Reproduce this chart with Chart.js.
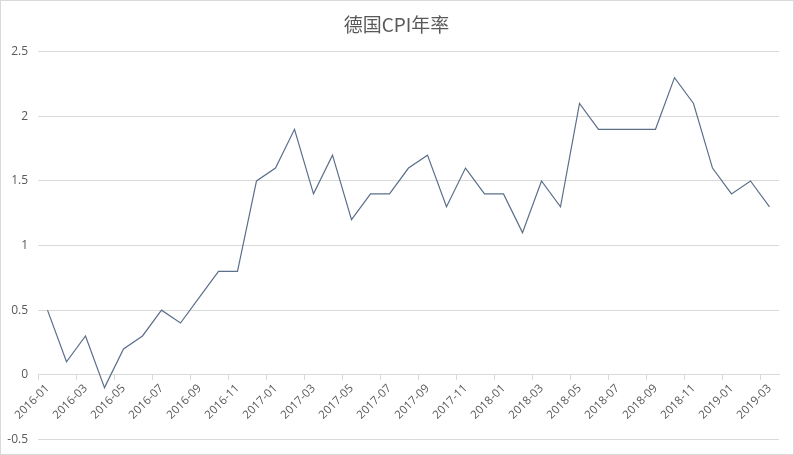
<!DOCTYPE html>
<html>
<head>
<meta charset="utf-8">
<script src="https://cdn.jsdelivr.net/npm/chart.js@4.4.0/dist/chart.umd.min.js"></script>
<style>
  html, body { margin: 0; padding: 0; background: #fff; }
  #wrap { width: 794px; height: 455px; box-sizing: border-box; border: 1px solid #d9d9d9; position: relative; }
</style>
</head>
<body>
<div id="wrap"><canvas id="cpi"></canvas></div>
<script>
// 月份
const months = [
  '2016-01', '2016-02', '2016-03', '2016-04', '2016-05', '2016-06', '2016-07', '2016-08', '2016-09', '2016-10', '2016-11', '2016-12',
  '2017-01', '2017-02', '2017-03', '2017-04', '2017-05', '2017-06', '2017-07', '2017-08', '2017-09', '2017-10', '2017-11', '2017-12',
  '2018-01', '2018-02', '2018-03', '2018-04', '2018-05', '2018-06', '2018-07', '2018-08', '2018-09', '2018-10', '2018-11', '2018-12',
  '2019-01', '2019-02', '2019-03'
];

// 德国CPI年率 (%)
const cpiRate = [
  0.5, 0.1, 0.3, -0.1, 0.2, 0.3, 0.5, 0.4, 0.6, 0.8, 0.8, 1.5,
  1.6, 1.9, 1.4, 1.7, 1.2, 1.4, 1.4, 1.6, 1.7, 1.3, 1.6, 1.4,
  1.4, 1.1, 1.5, 1.3, 2.1, 1.9, 1.9, 1.9, 1.9, 2.3, 2.1, 1.6,
  1.4, 1.5, 1.3
];

// y轴刻度
const yMin = -0.5;
const yMax = 2.5;
const yStep = 0.5;

const labelColor = '#595959';
const gridColor = '#d9d9d9';

new Chart(document.getElementById('cpi'), {
  type: 'line',
  data: {
    labels: months,
    datasets: [{
      label: '德国CPI年率',
      data: cpiRate,
      borderColor: '#5b6f8b',
      borderWidth: 1.2,
      pointRadius: 0,
      tension: 0,
      fill: false
    }]
  },
  options: {
    responsive: true,
    maintainAspectRatio: false,
    animation: false,
    layout: {
      padding: { top: 8, right: 1, bottom: 14.7, left: 0 }
    },
    plugins: {
      legend: { display: false },
      tooltip: { enabled: false },
      title: {
        display: true,
        text: '德国CPI年率',
        color: labelColor,
        font: { family: '"Noto Sans CJK SC", sans-serif', size: 19, weight: 'normal' },
        padding: { top: 4, bottom: 16 }
      }
    },
    scales: {
      x: {
        type: 'category',
        offset: true,
        position: { y: 0 },
        afterFit: function(scale) {
          scale.height = 0;
        },
        border: { display: true, color: gridColor },
        grid: {
          offset: true,
          drawOnChartArea: false,
          drawTicks: true,
          tickLength: 5,
          color: function(ctx) {
            return ctx.index % 2 === 0 ? gridColor : 'rgba(0,0,0,0)';
          }
        },
        ticks: {
          autoSkip: false,
          minRotation: 45,
          maxRotation: 45,
          padding: 2,
          color: labelColor,
          font: { family: '"Open Sans", sans-serif', size: 11.5 },
          callback: function(value, index) {
            return index % 2 === 0 ? this.getLabelForValue(value) : '';
          }
        }
      },
      y: {
        min: yMin,
        max: yMax,
        afterFit: function(scale) {
          scale.width = 37;
          scale.paddingBottom = 0;
        },
        border: { display: false },
        grid: {
          color: gridColor,
          drawTicks: false
        },
        ticks: {
          stepSize: yStep,
          padding: 10,
          color: labelColor,
          font: { family: '"Open Sans", sans-serif', size: 12 },
          callback: function(value) {
            return String(Math.round(value * 10) / 10);
          }
        }
      },
      // 右侧留白
      yRight: {
        position: 'right',
        afterFit: function(scale) {
          scale.width = 13;
        },
        border: { display: false },
        grid: { display: false, drawOnChartArea: false },
        ticks: { display: false }
      }
    }
  }
});
</script>
</body>
</html>
